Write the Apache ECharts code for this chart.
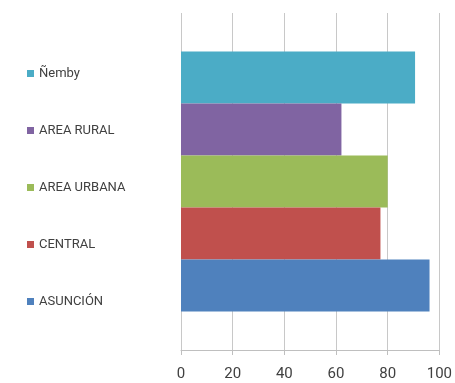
<!DOCTYPE html>
<html>
<head>
<meta charset="utf-8">
<script src="https://cdn.jsdelivr.net/npm/echarts@6/dist/echarts.min.js"></script>
<style>
  html, body { margin: 0; padding: 0; background: #fff; }
  #chart { width: 455px; height: 383px; }
</style>
</head>
<body>
<div id="chart"></div>
<script>
// Regions, listed top-to-bottom as the bars appear in the band
const regions = ['Ñemby', 'AREA RURAL', 'AREA URBANA', 'CENTRAL', 'ASUNCIÓN'];
const values = [90.6, 62.1, 80.0, 77.2, 96.2];
const colors = ['#4BACC6', '#8064A2', '#9BBB59', '#C0504D', '#4F81BD'];
const xTicks = [0, 20, 40, 60, 80, 100];

const font = "Roboto, 'Liberation Sans', sans-serif";

const chart = echarts.init(document.getElementById('chart'));
chart.setOption({
  animation: false,
  grid: { left: 181, right: 9, top: 13, bottom: 33, containLabel: false },
  legend: {
    orient: 'vertical',
    left: 22,
    top: 62,
    itemWidth: 7,
    itemHeight: 7,
    itemGap: 44,
    icon: 'rect',
    data: regions,
    textStyle: { fontFamily: font, fontSize: 13, color: '#404040' }
  },
  xAxis: {
    type: 'value',
    min: xTicks[0],
    max: xTicks[xTicks.length - 1],
    interval: 20,
    axisLine: { show: true, lineStyle: { color: '#BFBFBF', width: 1 } },
    axisTick: { show: true, length: 5, lineStyle: { color: '#BFBFBF' } },
    splitLine: { show: true, lineStyle: { color: '#C8C8C8', width: 1 } },
    axisLabel: { fontFamily: font, fontSize: 15, color: '#404040', margin: 17 }
  },
  yAxis: {
    type: 'category',
    data: [''],
    axisLine: { show: false },
    axisTick: { show: false },
    axisLabel: { show: false }
  },
  series: regions.map((name, i) => ({
    name: name,
    type: 'bar',
    data: [values[i]],
    itemStyle: { color: colors[i] },
    barGap: '0%',
    barCategoryGap: '22.8%'
  }))
});
</script>
</body>
</html>
